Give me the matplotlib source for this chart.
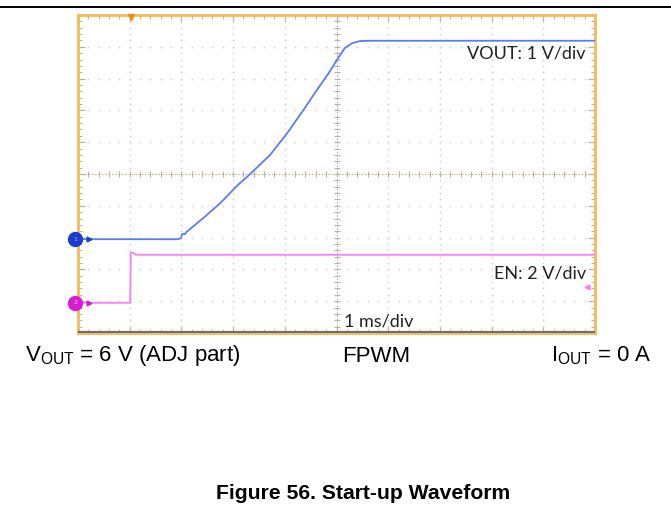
import numpy as np
import matplotlib
matplotlib.use("Agg")
import matplotlib.pyplot as plt
from matplotlib.lines import Line2D

plt.rcParams["mathtext.fontset"] = "custom"
plt.rcParams["mathtext.rm"] = "Liberation Sans"
plt.rcParams["mathtext.it"] = "Liberation Sans"

# Scope settings
time_per_div_ms = 1.0
vout_volts_per_div = 1.0
en_volts_per_div = 2.0
vout_ground_div = 2.95
en_ground_div = 0.95
trigger_time_ms = 1.02
en_trigger_level_div = 1.45

# VOUT (channel 1) trace: time in ms, voltage in V
vout_t = [0.0, 1.93, 1.99, 2.02, 2.07, 2.10, 2.42, 2.75, 3.07, 3.29, 3.71,
          4.04, 4.36, 4.62, 4.84, 5.03, 5.16, 5.30, 5.45, 5.65, 10.0]
vout_v = [0.0, 0.0, 0.03, 0.17, 0.16, 0.23, 0.66, 1.13, 1.67, 1.99, 2.64,
          3.32, 4.06, 4.69, 5.20, 5.69, 6.01, 6.16, 6.23, 6.24, 6.24]

# EN (channel 2) trace
en_t = [0.0, 1.01, 1.02, 1.06, 1.12, 10.0]
en_v = [0.0, 0.0, 3.15, 3.15, 3.02, 3.02]

fig = plt.figure(figsize=(6.71, 5.11), dpi=100)
W, H = 671, 511
x0, x1, y0, y1 = 78, 595, 15, 333
ax = fig.add_axes([x0 / W, 1 - y1 / H, (x1 - x0) / W, (y1 - y0) / H])
ax.set_xlim(0, 10)
ax.set_ylim(0, 10)

grid_c = "#d6d1c5"
center_c = "#bdb39c"
# dotted graticule
minor = np.arange(0, 10.001, 0.2)
for k in range(1, 10):
    if k == 5:
        continue
    ax.plot(np.full_like(minor, k), minor, ls="none", marker="s", ms=1.1,
            color=grid_c, mew=0)
    ax.plot(minor, np.full_like(minor, k), ls="none", marker="s", ms=1.1,
            color=grid_c, mew=0)
# center cross with tick marks
ax.plot([5, 5], [0, 10], color=center_c, lw=0.8, ls=(0, (1.5, 1.5)))
ax.plot([0, 10], [5, 5], color=center_c, lw=0.8, ls=(0, (1.5, 1.5)))
ax.plot(np.full_like(minor, 5), minor, ls="none", marker="_", ms=4,
        color=center_c, mew=0.8)
ax.plot(minor, np.full_like(minor, 5), ls="none", marker="|", ms=4,
        color=center_c, mew=0.8)

ax.set_xticks(np.arange(0, 10.01, 1))
ax.set_yticks(np.arange(0, 10.01, 1))
ax.set_xticks(minor, minor=True)
ax.set_yticks(minor, minor=True)
ax.tick_params(which="both", direction="in", top=True, right=True,
               labelbottom=False, labelleft=False, color=center_c)
ax.tick_params(which="major", length=5, width=0.9)
ax.tick_params(which="minor", length=3, width=0.7)

for s in ax.spines.values():
    s.set_color("#f7b955")
    s.set_linewidth(2.0)
ax.axhline(0.02, color="#6f6f6f", lw=1.6, zorder=3)

# traces
vout_y = vout_ground_div + np.array(vout_v) / vout_volts_per_div
en_y = en_ground_div + np.array(en_v) / en_volts_per_div
vt = np.array(vout_t) / time_per_div_ms
et = np.array(en_t) / time_per_div_ms
ax.plot(vt, vout_y, color="#5b7cf2", lw=1.3, zorder=5)
ax.plot(et, en_y, color="#f77ff7", lw=1.3, zorder=5)

# channel ground markers
ax.plot([-0.05], [vout_ground_div], marker="o", ms=10, color="#1a3ccf",
        clip_on=False, zorder=6)
ax.plot([0.22], [vout_ground_div], marker=">", ms=3.5, color="#1a3ccf",
        clip_on=False, zorder=6)
ax.plot([-0.05], [en_ground_div], marker="o", ms=10, color="#d31ed3",
        clip_on=False, zorder=6)
ax.plot([0.22], [en_ground_div], marker=">", ms=3.5, color="#d31ed3",
        clip_on=False, zorder=6)
ax.text(-0.05, vout_ground_div, "1", fontsize=4.5, color="#9fb0ff",
        ha="center", va="center", zorder=7)
ax.text(-0.05, en_ground_div, "2", fontsize=4.5, color="#ffb0ff",
        ha="center", va="center", zorder=7)
# trigger markers
ax.plot([trigger_time_ms / time_per_div_ms], [9.93], marker="v", ms=5,
        color="#f08a1c", clip_on=False, zorder=6)
ax.plot([9.85], [en_trigger_level_div], marker="<", ms=3.5,
        color="#f77ff7", zorder=6)

lbl_font = dict(family="Lato", fontsize=13, color="#222222")
ax.text(9.81, 8.78, "VOUT: 1 V/div", ha="right", va="center", **lbl_font)
ax.text(9.83, 1.88, "EN: 2 V/div", ha="right", va="center", **lbl_font)
ax.text(5.15, 0.35, "1 ms/div", ha="left", va="center", **lbl_font)

# page decorations
fig.add_artist(Line2D([0, 1], [1 - 7 / H] * 2, color="black", lw=1.4))
cap = dict(family="Liberation Sans", fontsize=16, color="black", va="center")
fig.text(25 / W, 1 - 356 / H, r"V$_{\mathrm{OUT}}$ = 6 V (ADJ part)",
         ha="left", **cap)
fig.text(376 / W, 1 - 356 / H, "FPWM", ha="center", **cap)
fig.text(652 / W, 1 - 356 / H, r"I$_{\mathrm{OUT}}$ = 0 A", ha="right", **cap)
fig.text(363 / W, 1 - 493 / H, "Figure 56. Start-up Waveform",
         family="Liberation Sans", fontsize=15.2, fontweight="bold",
         ha="center", va="center")

fig.savefig("out.png", dpi=100)
